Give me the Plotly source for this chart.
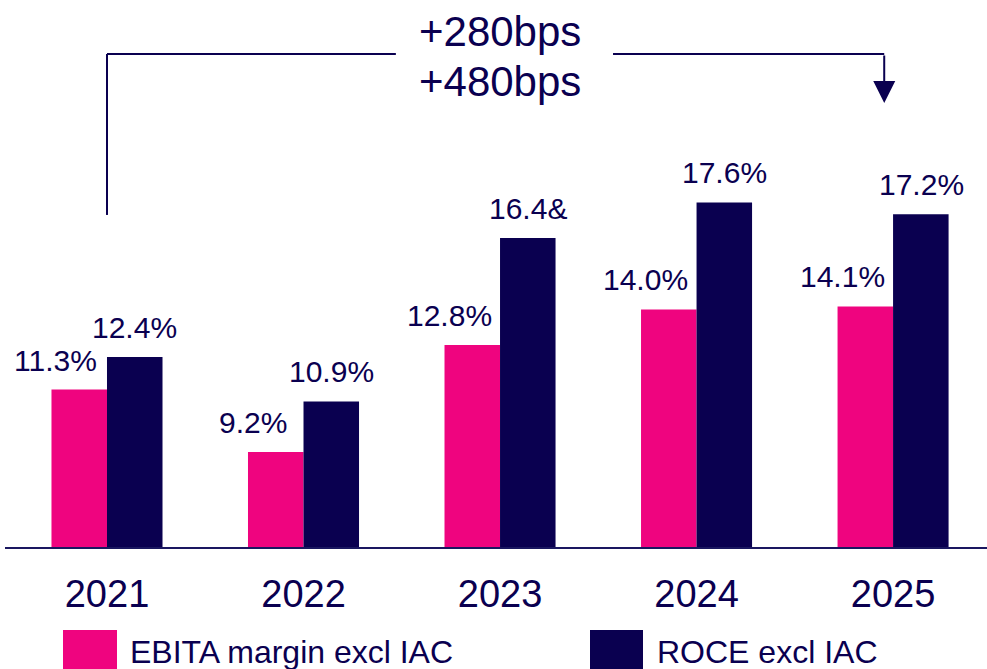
import plotly.graph_objects as go

years = ['2021', '2022', '2023', '2024', '2025']
ebita = [11.3, 9.2, 12.8, 14.0, 14.1]
roce = [12.4, 10.9, 16.4, 17.6, 17.2]
ebita_labels = ['11.3%', '9.2%', '12.8%', '14.0%', '14.1%']
roce_labels = ['12.4%', '10.9%', '16.4&', '17.6%', '17.2%']

PINK = '#EF047F'
NAVY = '#0A0050'
FONT = 'Liberation Sans, Arial, sans-serif'

W, H = 987, 669
L, R, T, B = 5, 0, 0, 122
plot_w = W - L - R
plot_h = H - T - B


def px_x(p):
    return (p - L) / plot_w


def px_y(p):
    return (H - B - p) / plot_h


fig = go.Figure()
fig.add_trace(go.Bar(x=years, y=ebita, name='EBITA margin excl IAC',
                     marker=dict(color=PINK, line=dict(width=0))))
fig.add_trace(go.Bar(x=years, y=roce, name='ROCE excl IAC',
                     marker=dict(color=NAVY, line=dict(width=0))))

annotations = []
# value labels (category index used as x position)
for i, (v, t) in enumerate(zip(ebita, ebita_labels)):
    annotations.append(dict(x=i, y=v, text=t, showarrow=False, xanchor='center',
                            yanchor='bottom', xshift=-51, yshift=11,
                            font=dict(size=30, color=NAVY, family=FONT)))
for i, (v, t) in enumerate(zip(roce, roce_labels)):
    annotations.append(dict(x=i, y=v, text=t, showarrow=False, xanchor='center',
                            yanchor='bottom', xshift=28, yshift=11,
                            font=dict(size=30, color=NAVY, family=FONT)))

# change bracket text
annotations.append(dict(x=2, y=23.35, text='+280bps', showarrow=False,
                        font=dict(size=42, color=NAVY, family=FONT)))
annotations.append(dict(x=2, y=21.67, text='+480bps', showarrow=False,
                        font=dict(size=42, color=NAVY, family=FONT)))
# arrow head down to 2025
annotations.append(dict(x=3.955, y=20.95, ax=3.955, ay=22.6, axref='x', ayref='y',
                        xref='x', yref='y', text='', showarrow=True,
                        arrowhead=2, arrowsize=2.2, arrowwidth=2, arrowcolor=NAVY))

# legend drawn by hand
legend_items = [(63, 117, PINK, 'EBITA margin excl IAC', 128),
                (590, 643, NAVY, 'ROCE excl IAC', 655)]
shapes = []
for x0, x1, col, txt, tx in legend_items:
    shapes.append(dict(type='rect', xref='paper', yref='paper',
                       x0=px_x(x0), x1=px_x(x1), y0=px_y(672), y1=px_y(630),
                       fillcolor=col, line=dict(width=0)))
    annotations.append(dict(xref='paper', yref='paper', x=px_x(tx), y=px_y(652),
                            text=txt, showarrow=False, xanchor='left', yanchor='middle',
                            font=dict(size=32, color=NAVY, family=FONT)))

# bracket lines
shapes += [
    dict(type='line', xref='x', yref='y', x0=0, x1=0, y0=17.18, y1=22.6,
         line=dict(color=NAVY, width=2)),
    dict(type='line', xref='x', yref='y', x0=0, x1=1.47, y0=22.6, y1=22.6,
         line=dict(color=NAVY, width=2)),
    dict(type='line', xref='x', yref='y', x0=2.575, x1=3.955, y0=22.6, y1=22.6,
         line=dict(color=NAVY, width=2)),
]

fig.update_layout(
    width=W, height=H,
    margin=dict(l=L, r=R, t=T, b=B),
    plot_bgcolor='white', paper_bgcolor='white',
    barmode='group', bargap=0.435, bargroupgap=0,
    showlegend=False,
    annotations=annotations,
    shapes=shapes,
    font=dict(family=FONT, color=NAVY),
)
fig.update_xaxes(type='category', range=[-0.519, 4.478], showline=True,
                 linecolor='#1A1760', linewidth=2,
                 showgrid=False, ticks='', tickfont=dict(size=38, color=NAVY, family=FONT),
                 ticklabelstandoff=12)
fig.update_yaxes(range=[6, 6 + plot_h / 29.7], visible=False, showgrid=False)

fig.write_html('out.html', config={'displayModeBar': False},
               post_script="document.body.style.margin='0';")
